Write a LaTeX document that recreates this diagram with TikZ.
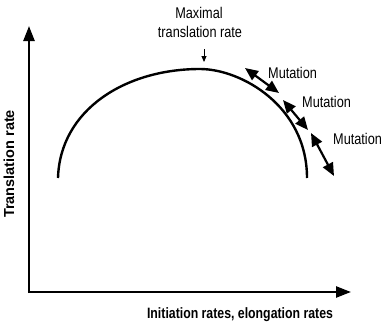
\documentclass[tikz,border=0pt]{standalone}
\usepackage{fontspec}
\setmainfont{Liberation Sans}
\newfontfamily\narrowfont{Liberation Sans}[FakeStretch=0.82]
\usetikzlibrary{arrows.meta}
\begin{document}
\begin{tikzpicture}[x=1pt,y=-1pt,
  axis/.style={line width=2.4pt,-{Triangle[length=15pt,width=11pt]}},
  mutarrow/.style={line width=2.2pt,{Triangle[length=13pt,width=11pt]}-{Triangle[length=13pt,width=11pt]}},
  lbl/.style={font=\narrowfont\fontsize{15.5}{17}\selectfont,inner sep=0pt},
  curve/.style={line width=2.4pt}]
\useasboundingbox (0,0) rectangle (381,327);
% axes
\coordinate (origin) at (29,292);
\coordinate (ytip) at (29,26);
\coordinate (xtip) at (351,292);
\draw[axis,-] (29,293.2) -- (29,292);
\draw[axis] (origin) -- (ytip);
\draw[axis] ([xshift=-1.2pt]origin) -- (xtip);
% axis labels
\node[font=\bfseries\fontsize{14.5}{16}\selectfont,rotate=90,inner sep=0pt] (ylab) at (9,164) {Translation rate};
\node[lbl,font=\narrowfont\bfseries\fontsize{15}{17}\selectfont] (xlab) at (240,315) {Initiation rates, elongation rates};
% curve
\coordinate (cstart) at (58,178);
\coordinate (cpeak) at (200,69);
\coordinate (cend) at (307,178);
\draw[curve] (cstart) .. controls (60,110) and (125,69) .. (cpeak)
  .. controls (241,69) and (307,106) .. (cend);
% maximal label
\node[lbl] (max1) at (199,13) {Maximal};
\node[lbl] (max2) at (200,32) {translation rate};
\coordinate (ma1) at (204,49);
\coordinate (ma2) at (204,62);
\draw[line width=0.9pt,-{Triangle[length=6pt,width=5pt]}] (ma1) -- (ma2);
% mutation arrows
\coordinate (m1a) at (245,68);
\coordinate (m1b) at (279,93);
\coordinate (m2a) at (283,100);
\coordinate (m2b) at (308,130);
\coordinate (m3a) at (311,133);
\coordinate (m3b) at (334,176);
\draw[mutarrow] (m1a) -- (m1b);
\draw[mutarrow] (m2a) -- (m2b);
\draw[mutarrow] (m3a) -- (m3b);
\node[lbl,anchor=west] (mut1) at (268,73) {Mutation};
\node[lbl,anchor=west] (mut2) at (302,102) {Mutation};
\node[lbl,anchor=west] (mut3) at (333,139) {Mutation};
\end{tikzpicture}
\end{document}
